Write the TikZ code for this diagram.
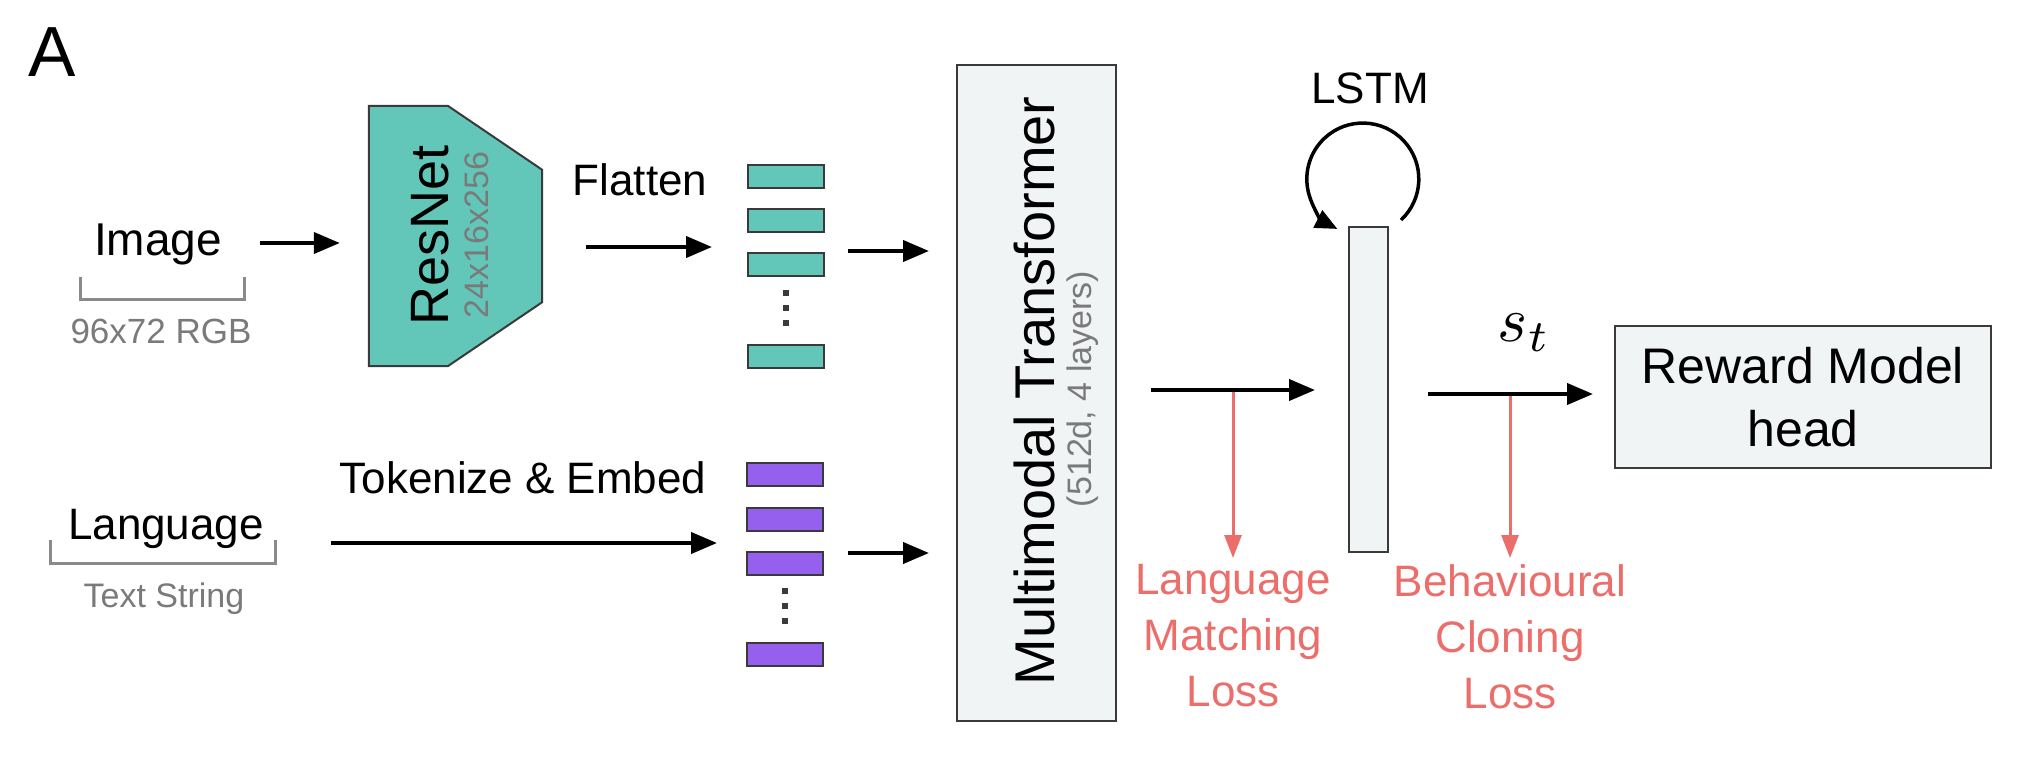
\documentclass[tikz,border=0pt]{standalone}
\usepackage{fontspec}
\setmainfont{Liberation Sans}
\usetikzlibrary{arrows.meta,calc}
\definecolor{tealc}{HTML}{62C7B8}
\definecolor{purplec}{HTML}{9660EE}
\definecolor{boxfill}{HTML}{F1F4F5}
\definecolor{edgec}{HTML}{3A3A3A}
\definecolor{lossred}{HTML}{EB6E6A}
\definecolor{subgray}{HTML}{7A7A7A}
\definecolor{brkgray}{HTML}{8A8A8A}
\newcommand{\myfs}[1]{\fontsize{#1}{#1}\selectfont}
\begin{document}
\begin{tikzpicture}[x=1pt,y=-1pt,
  lbl/.style={inner sep=0pt, outer sep=0pt},
  arr/.style={line width=4pt, -{Triangle[length=26pt,width=21pt]}},
  loopar/.style={line width=3.5pt, -{Triangle[length=22pt,width=19pt]}},
  redarr/.style={draw=lossred, line width=3pt, -{Triangle[length=23pt,width=17pt]}},
  bar/.style={draw=edgec, line width=2pt, minimum width=76pt, minimum height=23pt, inner sep=0pt},
  dotmark/.style={fill=edgec},
  box/.style={draw=edgec, line width=2pt, fill=boxfill, inner sep=0pt},
  brk/.style={draw=brkgray, line width=3pt},
  losslbl/.style={inner sep=0pt, text=lossred, align=center, anchor=north, font=\fontsize{44}{56}\selectfont}
]
\useasboundingbox (0,0) rectangle (2024,784);

% row coordinates for horizontal connectors
\coordinate (r1) at (0,243);
\coordinate (r2) at (0,247);
\coordinate (r3) at (0,251);
\coordinate (r4) at (0,543);
\coordinate (r5) at (0,553);
\coordinate (r6) at (0,390);
\coordinate (r7) at (0,394);

% panel letter
\node[lbl, font=\myfs{71}, anchor=base west] (lblA) at (28,77) {A};

% image input
\node[lbl, font=\myfs{46}, anchor=base] (img) at (158,255) {Image};
\node[lbl, font=\myfs{35}, text=subgray, anchor=base] (imgsub) at (161,343) {96x72 RGB};
\draw[brk] (80,277) -- (80,299) -- (244,299) -- (244,277);

% language input
\node[lbl, font=\myfs{44}, anchor=base] (lang) at (166,539) {Language};
\node[lbl, font=\myfs{34}, text=subgray, anchor=base] (langsub) at (164,607) {Text String};
\draw[brk] (50,540) -- (50,563) -- (275,563) -- (275,540);

% ResNet
\node[inner sep=0pt, minimum width=173pt, minimum height=260pt] (resnet) at (455.5,236) {};
\draw[draw=edgec, line width=2pt, fill=tealc] (resnet.north west) -- ($(resnet.north west)+(79,0)$)
  -- ($(resnet.north east)+(0,64)$) -- ($(resnet.south east)+(0,-64)$)
  -- ($(resnet.south west)+(79,0)$) -- (resnet.south west) -- cycle;
\node[lbl, font=\myfs{54}, rotate=90] (resname) at (430,235) {ResNet};
\node[lbl, font=\myfs{34}, text=subgray, rotate=90] (resdim) at (477,235) {24x16x256};

% labels over arrows
\node[lbl, font=\myfs{44}, anchor=base] (flat) at (640,195) {Flatten};
\node[lbl, font=\myfs{44}, anchor=base] (tok) at (523,493) {Tokenize \& Embed};

% image tokens
\node[bar, fill=tealc] (t1) at (786,176.5) {};
\node[bar, fill=tealc] (t2) at (786,220.5) {};
\node[bar, fill=tealc] (t3) at (786,264.5) {};
\node[bar, fill=tealc] (t4) at (786,356.5) {};
\foreach \yy in {293,308,323} \fill[dotmark] (786,\yy) +(-3,-3) rectangle +(3,3);

% language tokens
\node[bar, fill=purplec] (p1) at (785,474.5) {};
\node[bar, fill=purplec] (p2) at (785,519) {};
\node[bar, fill=purplec] (p3) at (785,563) {};
\node[bar, fill=purplec] (p4) at (785,654.5) {};
\foreach \yy in {591,606,621} \fill[dotmark] (785,\yy) +(-3,-3) rectangle +(3,3);

% transformer
\node[box, minimum width=159pt, minimum height=656pt] (trans) at (1036.5,393) {};
\node[lbl, font=\myfs{56}, rotate=90] (transname) at (1034,391) {Multimodal Transformer};
\node[lbl, font=\myfs{34}, text=subgray, rotate=90] (transdim) at (1083,389) {(512d, 4 layers)};

% LSTM
\node[box, minimum width=39pt, minimum height=325pt] (lstm) at (1368.5,389.5) {};
\node[lbl, font=\myfs{44}, anchor=base] (lstmlbl) at (1370,103) {LSTM};
\draw[loopar] ($(lstm.north)+(32.5,-6)$) arc[start angle=47, end angle=-243, radius=56];

% reward head
\node[box, minimum width=376pt, minimum height=142pt, align=center, font=\fontsize{50}{63}\selectfont] (reward) at (1803,397) {Reward Model\\head};
\node[lbl, scale=6.4] (st) at (1524,333) {$s_t$};

% loss labels
\node[losslbl] (lmloss) at (1233,564) {Language\\Matching\\Loss};
\node[losslbl] (bcloss) at (1510,564) {Behavioural\\Cloning\\Loss};

% connectors
\draw[arr] ($(img.east |- r1)+(38,0)$) -- ($(resnet.west |- r1)+(-29,0)$);
\draw[arr] ($(resnet.east |- r2)+(44,0)$) -- ($(t1.west |- r2)+(-35,0)$);
\draw[arr] ($(t1.east |- r3)+(23,0)$) -- ($(trans.west |- r3)+(-27,0)$);
\draw[arr] ($(lang.east |- r4)+(67,0)$) -- ($(p1.west |- r4)+(-29,0)$);
\draw[arr] ($(p1.east |- r5)+(24,0)$) -- ($(trans.west |- r5)+(-27,0)$);
\draw[redarr] (lmloss.north |- r6) -- ($(lmloss.north)+(0,-6)$);
\draw[redarr] (bcloss.north |- r7) -- ($(bcloss.north)+(0,-6)$);
\draw[arr] ($(trans.east |- r6)+(34,0)$) -- ($(lstm.west |- r6)+(-33,0)$);
\draw[arr] ($(lstm.east |- r7)+(39,0)$) -- ($(reward.west |- r7)+(-21,0)$);
\end{tikzpicture}
\end{document}
